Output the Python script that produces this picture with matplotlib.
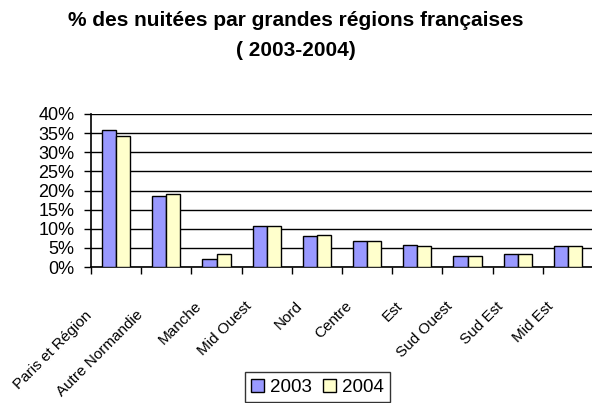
import matplotlib
matplotlib.use("Agg")
import matplotlib.pyplot as plt
import matplotlib.transforms as mtransforms
import numpy as np

categories = ["Paris et Région", "Autre Normandie", "Manche", "Mid Ouest", "Nord",
              "Centre", "Est", "Sud Ouest", "Sud Est", "Mid Est"]
values_2003 = [35.7, 18.6, 2.0, 10.6, 8.0, 6.8, 5.7, 2.9, 3.4, 5.4]
values_2004 = [34.2, 19.0, 3.4, 10.6, 8.3, 6.8, 5.4, 2.9, 3.4, 5.4]
series_names = ["2003", "2004"]
yticks = [0, 5, 10, 15, 20, 25, 30, 35, 40]
title = "% des nuitées par grandes régions françaises\n( 2003-2004)"

plt.rcParams['font.family'] = ['Liberation Sans', 'DejaVu Sans']

W, H = 592, 403
fig = plt.figure(figsize=(W / 100, H / 100), dpi=100)
ax = fig.add_axes([91 / W, (H - 267) / H, (593 - 91) / W, (267 - 114) / H])

x = np.arange(len(categories))
bw = 0.28
ax.bar(x - bw / 2, values_2003, bw, color="#9999FF", edgecolor="black", linewidth=1, label=series_names[0], zorder=3)
ax.bar(x + bw / 2, values_2004, bw, color="#FFFFCC", edgecolor="black", linewidth=1, label=series_names[1], zorder=3)

ax.set_xlim(-0.5, len(categories) - 0.5)
ax.set_ylim(0, 40)
ax.set_yticks(yticks)
ax.set_yticklabels([f"{v}%" for v in yticks], fontsize=13)
ax.yaxis.grid(True, color="black", linewidth=1)
ax.set_axisbelow(True)
ax.tick_params(axis="y", direction="out", length=5, width=1, pad=7)

ax.set_xticks(np.arange(-0.5, len(categories), 1.0))
ax.set_xticklabels([])
ax.tick_params(axis="x", direction="out", length=5, width=1)

for s in ("top", "right"):
    ax.spines[s].set_visible(False)
for s in ("left", "bottom"):
    ax.spines[s].set_linewidth(1.2)

base = mtransforms.blended_transform_factory(ax.transData, ax.transAxes)
for i, c in enumerate(categories):
    dx, dy = (-17, -37) if len(c) < 14 else (-26, -46)
    ax.text(i, 0, c, transform=base + mtransforms.ScaledTranslation(dx / 100, dy / 100, fig.dpi_scale_trans),
            rotation=45, ha="right", va="center", rotation_mode="anchor", fontsize=11)

fig.text(296 / W, 1 - 11 / H, title, ha="center", va="top", fontsize=15, fontweight="bold",
         linespacing=1.7)

leg = ax.legend(loc="upper center", bbox_to_anchor=(317.5 / W, 31 / H), bbox_transform=fig.transFigure,
                ncol=2, frameon=True, fancybox=False, edgecolor="black", fontsize=13.5,
                handlelength=0.7, handleheight=0.7, handletextpad=0.3, columnspacing=0.6,
                borderpad=0.35, borderaxespad=0)
leg.get_frame().set_linewidth(1)

fig.savefig("out.png", dpi=100)
